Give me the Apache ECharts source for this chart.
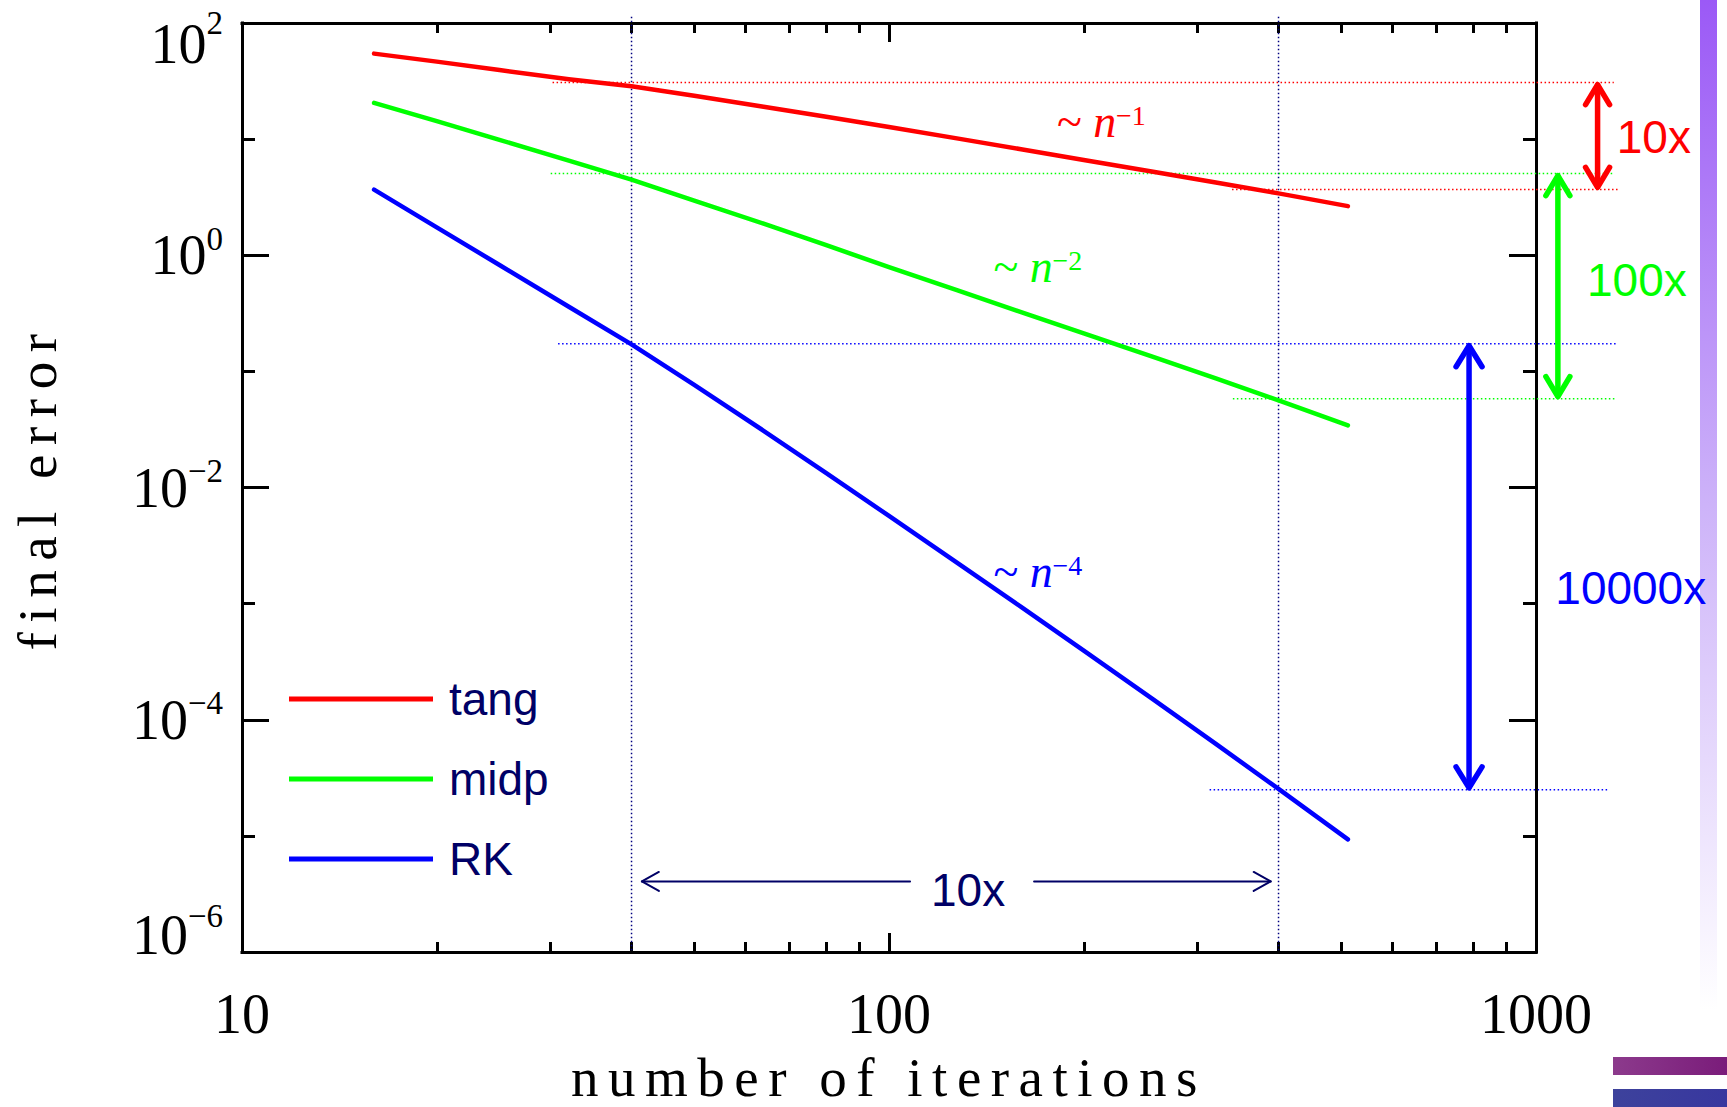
<!DOCTYPE html>
<html>
<head>
<meta charset="utf-8">
<title>final error vs number of iterations</title>
<script src="https://cdn.jsdelivr.net/npm/echarts@6.0.0/dist/echarts.min.js"></script>
<style>
  html, body { margin: 0; padding: 0; background: #ffffff; }
  #chart { width: 1727px; height: 1107px; }
  #chart svg text[style*="Times New Roman"] { letter-spacing: 9.5px; }
</style>
</head>
<body>
<div id="chart"></div>
<script>
// ---------- data ----------
const iterations = [16, 20, 25, 32, 40, 50, 64, 80, 100, 128, 160, 200, 256, 320, 400, 512];
const tangError  = [54.5, 46.5, 39.3, 32.8, 28.5, 23.6, 19.0, 15.6, 12.7, 10.1, 8.18, 6.62, 5.24, 4.23, 3.41, 2.65];
const midpError  = [20.5, 14.3, 9.86, 6.52, 4.48, 2.96, 1.87, 1.22, 0.791, 0.495, 0.324, 0.212, 0.133, 0.0871, 0.0562, 0.0343];
const rkError    = [3.67, 1.74, 0.824, 0.360, 0.171, 0.0766, 0.0308, 0.0133, 0.00569, 0.00221, 0.000938, 0.000394, 0.000150, 0.0000619, 0.0000254, 0.00000933];
const seriesNames = ['tang', 'midp', 'RK'];
const seriesColors = ['#ff0000', '#00ff00', '#0000ff'];

// axis ticks
const xMajorTicks = [10, 100, 1000];
const xMinorTicks = [20, 30, 40, 50, 60, 70, 80, 90, 200, 300, 400, 500, 600, 700, 800, 900];
const yMajorTicks = [1e-6, 1e-4, 1e-2, 1, 1e2];
const yMinorTicks = [1e-5, 1e-3, 1e-1, 1e1];

// annotations (data coordinates)
const guideIterations = [40, 400];
const guideTopError = 113;
const guideBottomError = 1e-6;
const levelHigh = [30.7, 5.05, 0.173];
const levelLow = [3.69, 0.0582, 2.49e-5];
const levelHighFrom = [30.2, 30.0, 30.8];
const levelHighTo = [1319, 1319, 1334];
const levelLowFrom = [339, 340, 313];
const levelLowTo = [1345, 1332, 1291];
const arrowIterations = [1245, 1081, 788];
const factorLabels = ['10x', '100x', '10000x'];
const factorLabelIterations = [1521, 1432, 1401];
const factorLabelErrors = [10.5, 0.608, 1.352e-3];
const slopeExponents = ['\u22121', '\u22122', '\u22124'];
const slopeLabelIterations = [181.8, 145, 145];
const slopeLabelErrors = [10.36, 0.5877, 1.387e-3];
const spanArrowIterations = [41.5, 389];
const spanArrowError = 4.05e-6;
const spanLabel = '10x';
const spanLabelIteration = 132.5;
const spanLabelError = 3.39e-6;

const errorsBySeries = [tangError, midpError, rkError];

// ---------- chart ----------
const chart = echarts.init(document.getElementById('chart'), null, { renderer: 'svg', width: 1727, height: 1107 });

const SERIF = 'Liberation Serif';
const NAME_FONT = 'Liberation Serif, Times New Roman, serif';
const SANS = 'Liberation Sans';
const NAVY = '#000066';

function yLabel(v) {
  const p = Math.round(Math.log10(v));
  const exp = p < 0 ? '\u2212' + (-p) : String(p);
  const k = p === 2 ? 'T' : (p === -6 ? 'B' : 'M');
  return '{b' + k + '|10}{s' + k + '|' + exp + '}';
}
const baseStyle = { fontFamily: SERIF, fontSize: 56, color: '#000' };
const supStyle = { fontFamily: SERIF, fontSize: 33, color: '#000' };
const yRich = {
  bM: Object.assign({}, baseStyle, { lineHeight: 66 }),
  sM: Object.assign({}, supStyle, { lineHeight: 34, verticalAlign: 'top' }),
  bT: Object.assign({}, baseStyle, { lineHeight: 97, verticalAlign: 'bottom' }),
  sT: Object.assign({}, supStyle, { lineHeight: 34, verticalAlign: 'middle' }),
  bB: Object.assign({}, baseStyle, { lineHeight: 91, verticalAlign: 'top' }),
  sB: Object.assign({}, supStyle, { lineHeight: 34, height: 18, verticalAlign: 'top' })
};

const frameLine = { show: true, onZero: false, lineStyle: { color: '#000', width: 3, cap: 'square' } };

function xAxisDef(position, ticks, len, withLine, withLabel) {
  const ax = {
    type: 'log', logBase: 10, min: 10, max: 1000, position: position, gridIndex: 0,
    axisLine: withLine ? frameLine : { show: false },
    axisTick: { show: true, inside: true, length: len, customValues: ticks, lineStyle: { color: '#000', width: 3 } },
    minorTick: { show: false },
    splitLine: { show: false },
    axisLabel: { show: false },
    axisPointer: { show: false }
  };
  if (withLabel) {
    ax.axisLabel = {
      show: true, customValues: xMajorTicks, margin: 34,
      fontFamily: SERIF, fontSize: 56, lineHeight: 56, color: '#000',
      formatter: function (v) { return String(Math.round(v)); }
    };
    ax.name = 'number of iterations';
    ax.nameLocation = 'middle';
    ax.nameGap = 105;
    ax.nameMoveOverlap = false;
    ax.nameTextStyle = { fontFamily: NAME_FONT, fontSize: 55, lineHeight: 40, color: '#000' };
  }
  return ax;
}
function yAxisDef(position, ticks, len, withLine, withLabel) {
  const ax = {
    type: 'log', logBase: 10, min: 1e-6, max: 100, position: position, gridIndex: 0,
    axisLine: withLine ? frameLine : { show: false },
    axisTick: { show: true, inside: true, length: len, customValues: ticks, lineStyle: { color: '#000', width: 3 } },
    minorTick: { show: false },
    splitLine: { show: false },
    axisLabel: { show: false },
    axisPointer: { show: false }
  };
  if (withLabel) {
    ax.axisLabel = {
      show: true, customValues: yMajorTicks, margin: 19,
      formatter: yLabel, rich: yRich, color: '#000'
    };
    ax.name = 'final error';
    ax.nameLocation = 'middle';
    ax.nameGap = 177;
    ax.nameMoveOverlap = false;
    ax.nameTextStyle = { fontFamily: NAME_FONT, fontSize: 55, lineHeight: 55, color: '#000' };
  }
  return ax;
}

const option = {
  backgroundColor: '#ffffff',
  animation: false,
  grid: { left: 242, right: 191, top: 23, bottom: 155, containLabel: false, outerBoundsMode: 'none' },
  xAxis: [
    xAxisDef('bottom', xMajorTicks, 19, true, true),
    xAxisDef('bottom', xMinorTicks, 10, false, false),
    xAxisDef('top', xMajorTicks, 19, true, false),
    xAxisDef('top', xMinorTicks, 10, false, false)
  ],
  yAxis: [
    yAxisDef('left', yMajorTicks, 27, true, true),
    yAxisDef('left', yMinorTicks, 13, false, false),
    yAxisDef('right', yMajorTicks, 27, true, false),
    yAxisDef('right', yMinorTicks, 13, false, false)
  ],
  legend: {
    orient: 'vertical', left: 284, top: 669, padding: 5,
    icon: 'rect', itemWidth: 144, itemHeight: 5, itemGap: 30,
    selectedMode: false,
    textStyle: { fontFamily: SANS, fontSize: 46, lineHeight: 50, color: NAVY, padding: [0, 0, 0, 11] },
    data: seriesNames
  },
  series: seriesNames.map(function (name, i) {
    return {
      name: name, type: 'line', xAxisIndex: 0, yAxisIndex: 0,
      data: iterations.map(function (n, j) { return [n, errorsBySeries[i][j]]; }),
      symbol: 'none', showSymbol: false, silent: true, z: 5,
      lineStyle: { color: seriesColors[i], width: 4.5, cap: 'round', join: 'round' },
      itemStyle: { color: seriesColors[i] }
    };
  })
};
chart.setOption(option);

// ---------- annotations, placed through the axes' scales ----------
function P(n, e) { return chart.convertToPixel({ xAxisIndex: 0, yAxisIndex: 0 }, [n, e]); }
const g = [];
function seg(a, b, stroke, width, dash, z, cap) {
  g.push({ type: 'line', silent: true, z: z,
    shape: { x1: a[0], y1: a[1], x2: b[0], y2: b[1] },
    style: { stroke: stroke, lineWidth: width, lineDash: dash || null, lineCap: cap || 'round' } });
}
function poly(pts, stroke, width, z) {
  g.push({ type: 'polyline', silent: true, z: z,
    shape: { points: pts },
    style: { stroke: stroke, lineWidth: width, lineCap: 'round', lineJoin: 'round', fill: null } });
}
function txt(text, x, y, font, fill, align, z) {
  g.push({ type: 'text', silent: true, z: z, x: x, y: y,
    style: { text: text, x: 0, y: 0, font: font, fill: fill,
      align: align, verticalAlign: 'middle', textAlign: align, textVerticalAlign: 'middle' } });
}
const DOTS = [1.5, 2.5];

// vertical dotted guides
guideIterations.forEach(function (n) {
  seg(P(n, guideTopError), P(n, guideBottomError), '#000080', 1.5, DOTS, 1, 'butt');
});
// horizontal dotted levels
for (let i = 0; i < 3; i++) {
  seg(P(levelHighFrom[i], levelHigh[i]), P(levelHighTo[i], levelHigh[i]), seriesColors[i], 1.5, DOTS, 1, 'butt');
  seg(P(levelLowFrom[i], levelLow[i]), P(levelLowTo[i], levelLow[i]), seriesColors[i], 1.5, DOTS, 1, 'butt');
}
// thick double arrows
const headHalf = [12, 12, 13];
const headDepth = [22, 22, 23];
for (let i = 0; i < 3; i++) {
  const t = P(arrowIterations[i], levelHigh[i]);
  const b = P(arrowIterations[i], levelLow[i]);
  const c = seriesColors[i];
  seg([t[0], t[1] + 3], [b[0], b[1] - 3], c, 5.5, null, 10);
  poly([[t[0] - headHalf[i], t[1] + headDepth[i]], [t[0], t[1] + 2], [t[0] + headHalf[i], t[1] + headDepth[i]]], c, 5.5, 10);
  poly([[b[0] - headHalf[i], b[1] - headDepth[i]], [b[0], b[1] - 2], [b[0] + headHalf[i], b[1] - headDepth[i]]], c, 5.5, 10);
  const lp = P(factorLabelIterations[i], factorLabelErrors[i]);
  txt(factorLabels[i], lp[0], lp[1], '46px ' + SANS, c, 'center', 10);
}
// slope labels  ~ n^k
for (let i = 0; i < 3; i++) {
  const a = P(slopeLabelIterations[i], slopeLabelErrors[i]); // left / baseline
  const c = seriesColors[i];
  txt('~', a[0], a[1] - 15.5, '46px ' + SERIF, c, 'left', 10);
  txt('n', a[0] + 36.4, a[1] - 15.5, 'italic 46px ' + SERIF, c, 'left', 10);
  txt(slopeExponents[i], a[0] + 59, a[1] - 21.5, '28px ' + SERIF, c, 'left', 10);
}
// horizontal 10x span arrow
const sl = P(spanArrowIterations[0], spanArrowError);
const sr = P(spanArrowIterations[1], spanArrowError);
const sc = P(spanLabelIteration, spanLabelError);
seg(sl, [sc[0] - 58, sl[1]], NAVY, 2, null, 10);
seg([sc[0] + 66, sr[1]], sr, NAVY, 2, null, 10);
poly([[sl[0] + 17, sl[1] - 9.5], sl, [sl[0] + 17, sl[1] + 9.5]], NAVY, 2, 10);
poly([[sr[0] - 17, sr[1] - 9.5], sr, [sr[0] - 17, sr[1] + 9.5]], NAVY, 2, 10);
txt(spanLabel, sc[0], sc[1], '46px ' + SANS, NAVY, 'center', 10);

// slide decoration at the right edge
g.push({ type: 'rect', silent: true, z: 0, shape: { x: 1700, y: 0, width: 17, height: 1010 },
  style: { fill: new echarts.graphic.LinearGradient(0, 0, 0, 1, [
    { offset: 0, color: '#9b59f6' }, { offset: 0.5, color: '#cdb3f9' }, { offset: 1, color: '#ffffff' }]) } });
g.push({ type: 'rect', silent: true, z: 0, shape: { x: 1613, y: 1057, width: 114, height: 18 },
  style: { fill: new echarts.graphic.LinearGradient(0, 0, 1, 0, [
    { offset: 0, color: '#8c3a8c' }, { offset: 1, color: '#7a1c7a' }]) } });
g.push({ type: 'rect', silent: true, z: 0, shape: { x: 1613, y: 1089, width: 114, height: 18 },
  style: { fill: new echarts.graphic.LinearGradient(0, 0, 1, 0, [
    { offset: 0, color: '#3d429c' }, { offset: 1, color: '#38379f' }]) } });

chart.setOption({ graphic: { elements: g } });
</script>
</body>
</html>
